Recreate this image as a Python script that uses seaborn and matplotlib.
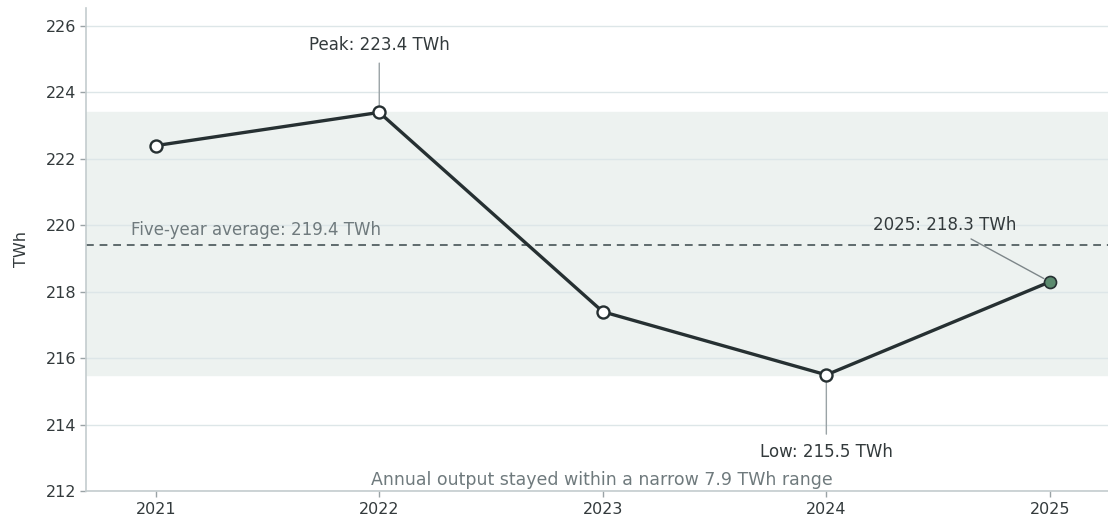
import numpy as np
import pandas as pd
import seaborn as sns
import matplotlib.pyplot as plt

years = [2021, 2022, 2023, 2024, 2025]
output_twh = [222.4, 223.4, 217.4, 215.5, 218.3]
avg_twh = 219.4
y_ticks = [212, 214, 216, 218, 220, 222, 224, 226]

df = pd.DataFrame({"year": years, "twh": output_twh})

sns.set_theme(style="white")
plt.rcParams['font.family'] = ['DejaVu Sans']

fig, ax = plt.subplots(figsize=(11.08, 5.17), dpi=100)
fig.subplots_adjust(left=0.078, right=1.0, top=0.985, bottom=0.05)

ink = "#263032"
grey = "#5f6b6d"

lo, hi = min(output_twh), max(output_twh)
ax.axhspan(lo, hi, color="#edf2f0", zorder=0)
for t in y_ticks:
    ax.axhline(t, color="#dde6e8", lw=1, zorder=0.5)
ax.axhline(avg_twh, color=grey, ls=(0, (4, 3)), lw=1.4, zorder=1)

sns.lineplot(data=df, x="year", y="twh", color=ink, lw=2.4, ax=ax, zorder=3)
ax.scatter(years[:-1], output_twh[:-1], s=75, facecolor="white", edgecolor=ink, lw=1.7, zorder=4)
ax.scatter(years[-1:], output_twh[-1:], s=75, facecolor="#5b8a6e", edgecolor=ink, lw=1.2, zorder=4)

i_hi = int(np.argmax(output_twh))
i_lo = int(np.argmin(output_twh))
ax.annotate(f"Peak: {hi:.1f} TWh", xy=(years[i_hi], hi), xytext=(years[i_hi], 225.15),
            ha="center", va="bottom", fontsize=12, color="#333a3c",
            arrowprops=dict(arrowstyle="-", color="#9aa3a6", lw=1, shrinkA=4, shrinkB=4))
ax.annotate(f"Low: {lo:.1f} TWh", xy=(years[i_lo], lo), xytext=(years[i_lo], 213.45),
            ha="center", va="top", fontsize=12, color="#333a3c",
            arrowprops=dict(arrowstyle="-", color="#9aa3a6", lw=1, shrinkA=4, shrinkB=4))
ax.annotate(f"2025: {output_twh[-1]:.1f} TWh", xy=(years[-1], output_twh[-1]), xytext=(2024.53, 219.75),
            ha="center", va="bottom", fontsize=12, color="#333a3c",
            arrowprops=dict(arrowstyle="-", color="#7d8689", lw=1, shrinkA=3, shrinkB=5))

ax.text(2020.89, avg_twh + 0.2, f"Five-year average: {avg_twh:.1f} TWh", fontsize=12,
        color="#6f7a7d", ha="left", va="bottom")
ax.text(0.505, 0.005, f"Annual output stayed within a narrow {hi - lo:.1f} TWh range",
        transform=ax.transAxes, ha="center", va="bottom", fontsize=12.5, color="#6f7a7d")

ax.set_xlim(2020.69, 2025.26)
ax.set_ylim(212, 226.55)
ax.set_xticks(years)
ax.set_yticks(y_ticks)
ax.set_xlabel("")
ax.set_ylabel("TWh", fontsize=11.5, color="#333a3c", labelpad=12)
ax.tick_params(axis="both", labelsize=11.5, colors="#333a3c", length=4, width=1, left=True, bottom=True)
ax.tick_params(axis="both", color="#9aa3a6")
for s in ["top", "right"]:
    ax.spines[s].set_visible(False)
for s in ["left", "bottom"]:
    ax.spines[s].set_color("#c4ccce")
    ax.spines[s].set_linewidth(1.2)

fig.savefig("out.png", dpi=100)
